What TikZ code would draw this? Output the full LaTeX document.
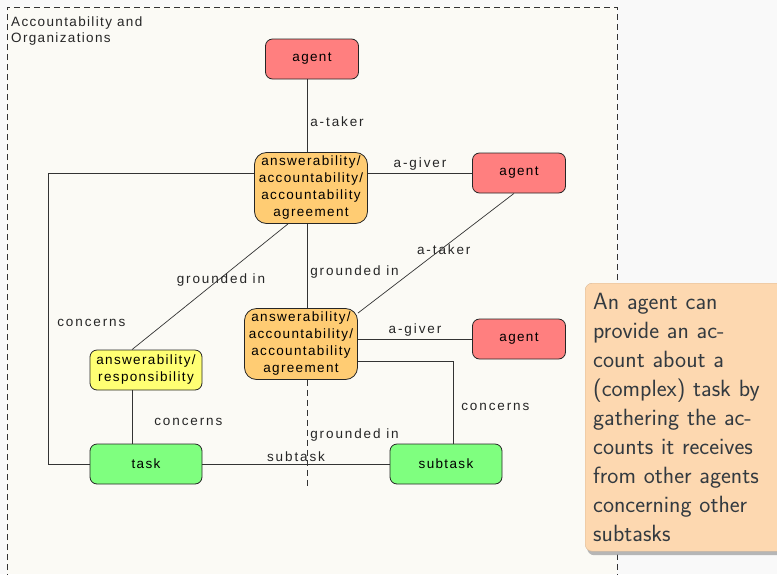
\documentclass[tikz,border=0pt]{standalone}
\usepackage{fontspec}
\newfontfamily\schemafont[LetterSpace=10]{Liberation Sans}
\newfontfamily\etiqfont[LetterSpace=14]{Liberation Sans}
\usetikzlibrary{shadows,calc}

\definecolor{fondext}{HTML}{F9F9F9}
\definecolor{fondint}{HTML}{FBFAF5}
\definecolor{agentrouge}{HTML}{FF7F7F}
\definecolor{accordorange}{HTML}{FFCC73}
\definecolor{respjaune}{HTML}{FFFF73}
\definecolor{tachevert}{HTML}{7FFF7F}
\definecolor{notefond}{HTML}{FDD8B0}
\definecolor{notebord}{HTML}{D9B896}
\definecolor{notetexte}{HTML}{333A40}

\tikzset{
  boite/.style={draw=black!85, line width=0.8pt, rounded corners=7pt, align=center,
    inner sep=1pt, font=\schemafont\fontsize{13.5}{17}\selectfont},
  agent/.style={boite, fill=agentrouge, minimum width=93pt, minimum height=40pt},
  accord/.style={boite, fill=accordorange, minimum width=113pt, minimum height=71pt, rounded corners=12pt},
  resp/.style={boite, fill=respjaune, minimum width=112pt, minimum height=40pt},
  tache/.style={boite, fill=tachevert, minimum width=112pt, minimum height=40pt},
  lien/.style={draw=black!80, line width=0.7pt},
  etiq/.style={font=\etiqfont\fontsize{13.5}{16}\selectfont, inner sep=1pt, text=black!85, yshift=-2pt},
  cadre/.style={draw=black!80, line width=0.8pt, dash pattern=on 6pt off 4pt},
}

\begin{document}
\begin{tikzpicture}[x=1pt,y=-1pt]

% fond et cadre
\useasboundingbox[fill=fondext] (0,0) rectangle (777,574);
\fill[fondint] (7,7) rectangle (617,574);
\draw[cadre] (7,580) -- (7,7) -- (617,7) -- (617,580);
\node[font=\schemafont\fontsize{13.5}{16}\selectfont, text=black!85, anchor=north west,
      align=left, inner sep=0pt] (titre) at (11,17) {Accountability and\\Organizations};

% axes des liens verticaux
\coordinate (axe) at (307,0);
\coordinate (axeG) at (48,0);
\coordinate (axeT) at (132,0);
\coordinate (axeD) at (453,0);
\coordinate (fin) at (307,487);

% noeuds
\node[agent]  (agentA) at (312,59) {agent};
\node[accord] (agrA)   at (311,188) {answerability/\\accountability/\\accountability\\agreement};
\node[agent]  (agentB) at (519,173) {agent};
\node[accord] (agrB)   at (301,344) {answerability/\\accountability/\\accountability\\agreement};
\node[agent]  (agentC) at (519,339) {agent};
\node[resp]   (resp)   at (146,370) {answerability/\\responsibility};
\node[tache]  (task)   at (146,464) {task};
\node[tache]  (sub)    at (446,464) {subtask};

% liens
\draw[lien] (agentA.south -| axe) -- node[etiq, pos=0.55, right=2pt] {a-taker} (agrA.north -| axe);
\draw[lien] (agrA.east |- agentB) -- node[etiq, above=3pt] {a-giver} (agentB.west);
\draw[lien] ($(agentB.south)+(-5,0)$) -- node[etiq, pos=0.45] {a-taker} ($(agrB.north east)+(0,5)$);
\draw[lien] (agrA.south -| axe) -- node[etiq, pos=0.55, right=2pt] {grounded in} (agrB.north -| axe);
\draw[lien] ($(agrA.south)+(-23,0)$) -- node[etiq, pos=0.43] {grounded in} (resp.north -| axeT);
\draw[lien] (agrA.west |- agentB) -| node[etiq, pos=0.755, right=8pt] {concerns} (axeG |- task) -- (task.west);
\draw[lien] (resp.south -| axeT) -- node[etiq, pos=0.55, right=21pt] {concerns} (task.north -| axeT);
\draw[lien] (task.east) -- node[etiq, above=3pt] {subtask} (sub.west);
\draw[lien] (agrB.east |- agentC) -- node[etiq, above=3pt] {a-giver} (agentC.west);
\draw[lien] ($(agrB.east)+(0,17)$) -| node[etiq, pos=0.765, right=7pt] {concerns} (sub.north -| axeD);
\draw[lien, dash pattern=on 6pt off 4pt] (agrB.south -| axe) -- node[etiq, pos=0.5, right=2pt] {grounded in} (fin);

% note
\node[draw=notebord, fill=notefond, rounded corners=7pt, anchor=north west,
      drop shadow={shadow xshift=2pt, shadow yshift=-4pt, fill=black!35, opacity=0.8},
      align=left, text=notetexte, text width=194pt, inner xsep=8pt, inner ysep=4pt,
      minimum height=268pt,
      font=\sffamily\fontsize{23.5}{29}\selectfont] (note) at (585,283)
  {An agent can\\provide an ac-\\count about a\\(complex) task by\\gathering the ac-\\counts it receives\\from other agents\\concerning other\\subtasks};

\end{tikzpicture}
\end{document}
